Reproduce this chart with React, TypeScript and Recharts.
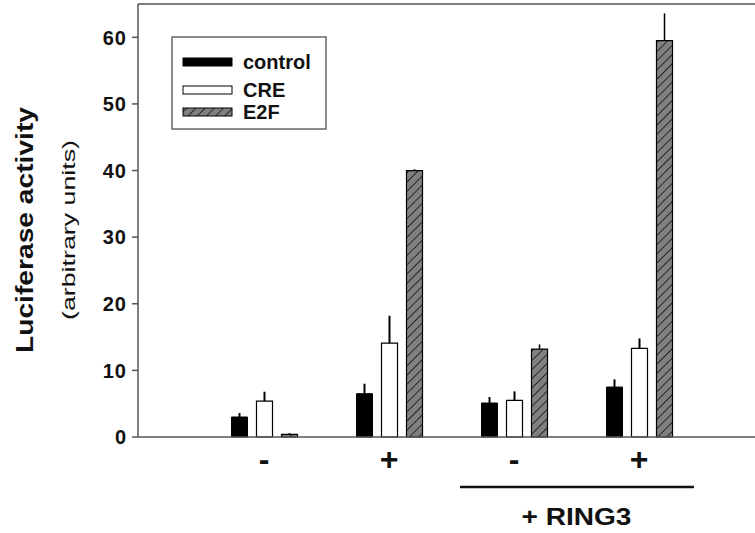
import React from 'react'
import { BarChart, Bar, XAxis, YAxis, ErrorBar, ReferenceLine } from 'recharts'

const GROUPS = ['-', '+', '-', '+']
const CONTROL = [3.0, 6.5, 5.1, 7.5]
const CONTROL_ERR = [0.6, 1.5, 0.9, 1.15]
const CRE = [5.4, 14.1, 5.5, 13.3]
const CRE_ERR = [1.4, 4.1, 1.35, 1.5]
const E2F = [0.4, 40.0, 13.2, 59.5]
const E2F_ERR = [0.2, 0.2, 0.7, 4.1]
const Y_TICKS = [0, 10, 20, 30, 40, 50, 60]

const data = GROUPS.map((g, i) => ({
  group: g,
  control: CONTROL[i],
  controlErr: [0, CONTROL_ERR[i]],
  cre: CRE[i],
  creErr: [0, CRE_ERR[i]],
  e2f: E2F[i],
  e2fErr: [0, E2F_ERR[i]],
}))

const FONT = '"Liberation Sans", Arial, sans-serif'
const AXIS = '#555'
const PAD_L = 63.5
const PAD_R = 73.5

function YTick({ x, y, payload }: any) {
  return (
    <text x={x} y={y} dy="0.36em" textAnchor="end" fontFamily={FONT} fontWeight="bold"
      fontSize={20} letterSpacing={1} fill="#111">
      {payload.value}
    </text>
  )
}

function XTick({ x, y, payload }: any) {
  return (
    <text x={x} y={y} dy={33} textAnchor="middle" fontFamily={FONT} fontWeight="bold"
      fontSize={32} fill="#111">
      {payload.value}
    </text>
  )
}

function RingLabel({ viewBox }: any) {
  const { x, y, width } = viewBox
  const band = (width - PAD_L - PAD_R) / GROUPS.length
  const c = (i: number) => x + PAD_L + band * (i + 0.5)
  return (
    <g>
      <line x1={c(2) - 54} x2={c(3) + 55} y1={y + 50} y2={y + 50} stroke="#111" strokeWidth={2.5} />
      <text x={(c(2) + c(3)) / 2} y={y + 88} textAnchor="middle" fontFamily={FONT}
        fontWeight="bold" fontSize={23} textLength={110} lengthAdjust="spacingAndGlyphs" fill="#111">
        + RING3
      </text>
    </g>
  )
}

function YLabel() {
  return (
    <g>
      <text transform="translate(33,230) rotate(-90)" textAnchor="middle" fontFamily={FONT}
        fontWeight="bold" fontSize={24} textLength={246} lengthAdjust="spacingAndGlyphs" fill="#111">
        Luciferase activity
      </text>
      <text transform="translate(75,230) rotate(-90)" textAnchor="middle" fontFamily={FONT}
        fontSize={18.5} textLength={180} lengthAdjust="spacingAndGlyphs" fill="#111">
        (arbitrary units)
      </text>
    </g>
  )
}

function LegendBox() {
  const rows = [
    { name: 'control', fill: '#000', y: 62 },
    { name: 'CRE', fill: '#fff', y: 90 },
    { name: 'E2F', fill: 'url(#hatch)', y: 112 },
  ]
  return (
    <svg width={755} height={533} style={{ position: 'absolute', left: 0, top: 0, pointerEvents: 'none' }}>
      <rect x={172} y={37} width={154} height={92} fill="#fff" stroke="#666" strokeWidth={1.5} />
      {rows.map((r) => (
        <g key={r.name}>
          <rect x={183} y={r.y - 4} width={49} height={8} fill={r.fill} stroke="#000" strokeWidth={1} />
          <text x={243} y={r.y + 7} fontFamily={FONT} fontWeight="bold" fontSize={20} fill="#111">
            {r.name}
          </text>
        </g>
      ))}
    </svg>
  )
}

export default function App() {
  return (
    <div style={{ width: 755, height: 533, position: 'relative', overflow: 'hidden', background: '#fff' }}>
      <style>{'html,body{margin:0;padding:0;overflow:hidden}'}</style>
      <svg width={0} height={0} style={{ position: 'absolute' }}>
        <defs>
          <pattern id="hatch" patternUnits="userSpaceOnUse" width={6.5} height={6.5} patternTransform="rotate(45)">
            <rect width={6.5} height={6.5} fill="#808080" />
            <line x1={0} y1={0} x2={0} y2={6.5} stroke="#111" strokeWidth={1.6} />
          </pattern>
        </defs>
      </svg>
      <BarChart width={775} height={533} data={data} margin={{ top: 4, right: 0, left: 0, bottom: 0 }}
        barSize={16} barGap={9}>
        <XAxis dataKey="group" height={96} tickLine={false} tickSize={0} tickMargin={0}
          axisLine={{ stroke: AXIS, strokeWidth: 1.5 }} padding={{ left: PAD_L, right: PAD_R }}
          tick={<XTick />} interval={0} label={{ content: (p: any) => <RingLabel {...p} /> }} />
        <YAxis width={138} domain={[0, 65]} ticks={Y_TICKS} tickSize={6} tickMargin={5}
          axisLine={{ stroke: AXIS, strokeWidth: 1.5 }} tickLine={{ stroke: AXIS, strokeWidth: 1.5 }}
          tick={<YTick />} label={{ content: () => <YLabel /> }} />
        <ReferenceLine y={65} stroke={AXIS} strokeWidth={1.5} />
        <Bar dataKey="control" fill="#000" stroke="#000" isAnimationActive={false}>
          <ErrorBar dataKey="controlErr" width={0} stroke="#000" strokeWidth={2} direction="y" />
        </Bar>
        <Bar dataKey="cre" fill="#fff" stroke="#000" strokeWidth={1.2} isAnimationActive={false}>
          <ErrorBar dataKey="creErr" width={0} stroke="#000" strokeWidth={2} direction="y" />
        </Bar>
        <Bar dataKey="e2f" fill="url(#hatch)" stroke="#000" strokeWidth={1.2} isAnimationActive={false}>
          <ErrorBar dataKey="e2fErr" width={0} stroke="#000" strokeWidth={1.5} direction="y" />
        </Bar>
      </BarChart>
      <LegendBox />
    </div>
  )
}
